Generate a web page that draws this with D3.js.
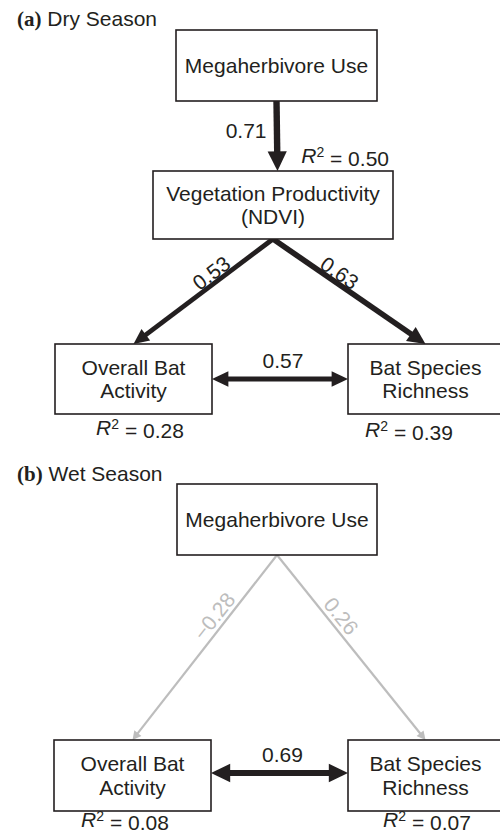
<!DOCTYPE html>
<html>
<head>
<meta charset="utf-8">
<script src="https://cdn.jsdelivr.net/npm/d3@7"></script>
<style>
  body { margin: 0; background: #fff; }
  text { font-family: "Liberation Sans", Arial, sans-serif; fill: #231f20; }
</style>
</head>
<body>
<div id="chart"></div>
<script>
// données du diagramme (coefficients standardisés)
const panelLetters = ["(a)", "(b)"]
const panelSeasons = ["Dry Season", "Wet Season"]

const nodeLabels = {
  mega: ["Megaherbivore Use"],
  veg: ["Vegetation Productivity", "(NDVI)"],
  act: ["Overall Bat", "Activity"],
  rich: ["Bat Species", "Richness"]
}

const dryPaths = [
  {from: "mega", to: "veg", coef: 0.71, sig: true},
  {from: "veg", to: "act", coef: 0.53, sig: true},
  {from: "veg", to: "rich", coef: 0.63, sig: true}
]
const dryCorr = [{a: "act", b: "rich", coef: 0.57}]
const dryR2 = [{node: "veg", r2: 0.50}, {node: "act", r2: 0.28}, {node: "rich", r2: 0.39}]

const wetPaths = [
  {from: "mega", to: "act", coef: -0.28, sig: false},
  {from: "mega", to: "rich", coef: 0.26, sig: false}
]
const wetCorr = [{a: "act", b: "rich", coef: 0.69}]
const wetR2 = [{node: "act", r2: 0.08}, {node: "rich", r2: 0.07}]

// mise en page
const width = 500, height = 834
const black = "#231f20", grey = "#bdbdbd"

const panels = [
  {
    titleY: 26, paths: dryPaths, corr: dryCorr, r2: dryR2, labelT: 0.4, labelOff: 10,
    boxes: {
      mega: {x0: 176, x1: 377, y0: 30, y1: 101},
      veg: {x0: 153, x1: 393, y0: 171, y1: 239},
      act: {x0: 55, x1: 212, y0: 344, y1: 414},
      rich: {x0: 348, x1: 503, y0: 344, y1: 414}
    },
    r2pos: {veg: [389, 163, "end"], act: [140, 435, "middle"], rich: [409, 437, "middle"]}
  },
  {
    titleY: 481, paths: wetPaths, corr: wetCorr, r2: wetR2, labelT: 0.37, labelOff: 12,
    boxes: {
      mega: {x0: 177, x1: 377, y0: 484, y1: 555},
      act: {x0: 54, x1: 211, y0: 740, y1: 811},
      rich: {x0: 348, x1: 503, y0: 740, y1: 811}
    },
    r2pos: {act: [125, 827, "middle"], rich: [427, 827, "middle"]}
  }
]

const widthScale = d3.scaleLinear().domain([0, 0.71]).range([0, 6.4])
const fmt = d => (d < 0 ? "\u2212" : "") + d3.format(".2f")(Math.abs(d))

const svg = d3.select("#chart")
  .append("svg")
  .attr("width", width)
  .attr("height", height)

// pointe de flèche : triangle dont la pointe est en (x,y), direction (ux,uy)
function head(x, y, ux, uy, w) {
  const len = 2.6 * w + 3, half = Math.max(1.5 * w, 4.5)
  const bx = x - ux * len, by = y - uy * len
  const px = -uy, py = ux
  return `M${x},${y}L${bx + px * half},${by + py * half}L${bx - px * half},${by - py * half}Z`
}

panels.forEach((p, i) => {
  const g = svg.append("g")

  // titre
  const title = g.append("text").attr("x", 17).attr("y", p.titleY).style("font-size", "21px")
  title.append("tspan").text(panelLetters[i])
    .style("font-family", "'Liberation Serif', 'Times New Roman', serif")
    .style("font-weight", "bold")
  title.append("tspan").text(" " + panelSeasons[i])

  const box = id => p.boxes[id]
  const cx = id => (box(id).x0 + box(id).x1) / 2
  const cy = id => (box(id).y0 + box(id).y1) / 2

  // chemins dirigés
  p.paths.forEach(e => {
    const x1 = cx(e.from), y1 = box(e.from).y1
    let x2 = cx(e.to)
    const y2 = box(e.to).y0
    const vertical = Math.abs(x2 - x1) < 10
    if (vertical) x2 = x1 + 1
    const w = e.sig ? widthScale(Math.abs(e.coef)) : 2.2
    const col = e.sig ? black : grey
    const L = Math.hypot(x2 - x1, y2 - y1)
    const ux = (x2 - x1) / L, uy = (y2 - y1) / L
    const len = 2.6 * w + 3
    g.append("line")
      .attr("x1", x1).attr("y1", y1)
      .attr("x2", x2 - ux * (len - 1)).attr("y2", y2 - uy * (len - 1))
      .attr("stroke", col).attr("stroke-width", w)
    g.append("path").attr("d", head(x2, y2, ux, uy, w)).attr("fill", col)

    // étiquette du coefficient
    if (vertical) {
      g.append("text")
        .attr("x", x1 - 10).attr("y", (y1 + y2) / 2 + 1.5)
        .attr("text-anchor", "end")
        .style("font-size", "21px")
        .style("fill", col)
        .text(fmt(e.coef))
    } else {
      let nx = -uy, ny = ux
      if (ny > 0) { nx = -nx; ny = -ny }
      const mx = x1 + (x2 - x1) * p.labelT + nx * p.labelOff
      const my = y1 + (y2 - y1) * p.labelT + ny * p.labelOff
      let ang = Math.atan2(uy, ux) * 180 / Math.PI
      if (ang > 90) ang -= 180
      if (ang < -90) ang += 180
      g.append("text")
        .attr("transform", `translate(${mx},${my}) rotate(${ang})`)
        .attr("text-anchor", "middle")
        .attr("dy", "0.36em")
        .style("font-size", "21px")
        .style("fill", col)
        .text(fmt(e.coef))
    }
  })

  // corrélations (double flèche)
  p.corr.forEach(c => {
    const xa = box(c.a).x1, xb = box(c.b).x0
    const y = cy(c.a) - (i === 1 ? 2.5 : 0)
    const w = widthScale(c.coef)
    const len = 2.6 * w + 3
    g.append("line")
      .attr("x1", xa + len - 1).attr("x2", xb - len + 1)
      .attr("y1", y).attr("y2", y)
      .attr("stroke", black).attr("stroke-width", w)
    g.append("path").attr("d", head(xa, y, -1, 0, w)).attr("fill", black)
    g.append("path").attr("d", head(xb, y, 1, 0, w)).attr("fill", black)
    g.append("text")
      .attr("x", (xa + xb) / 2 + 3).attr("y", y - 11)
      .attr("text-anchor", "middle")
      .style("font-size", "21px")
      .text(fmt(c.coef))
  })

  // boîtes
  Object.keys(p.boxes).forEach(id => {
    const b = box(id)
    g.append("rect")
      .attr("x", b.x0).attr("y", b.y0)
      .attr("width", b.x1 - b.x0).attr("height", b.y1 - b.y0)
      .attr("fill", "white").attr("stroke", black).attr("stroke-width", 1.6)
    const lines = nodeLabels[id]
    g.selectAll(null)
      .data(lines)
      .join("text")
      .attr("x", cx(id))
      .attr("y", (d, k) => cy(id) + 7.5 + (k - (lines.length - 1) / 2) * 23.5)
      .attr("text-anchor", "middle")
      .style("font-size", "21px")
      .text(d => d)
  })

  // R²
  p.r2.forEach(r => {
    const pos = p.r2pos[r.node]
    const t = g.append("text")
      .attr("x", pos[0]).attr("y", pos[1])
      .attr("text-anchor", pos[2])
      .style("font-size", "21px")
    t.append("tspan").text("R").style("font-style", "italic")
    t.append("tspan").text("2").attr("dy", "-0.4em").style("font-size", "14px")
    t.append("tspan").text(" = " + d3.format(".2f")(r.r2)).attr("dy", "0.4em")
  })
})
</script>
</body>
</html>
